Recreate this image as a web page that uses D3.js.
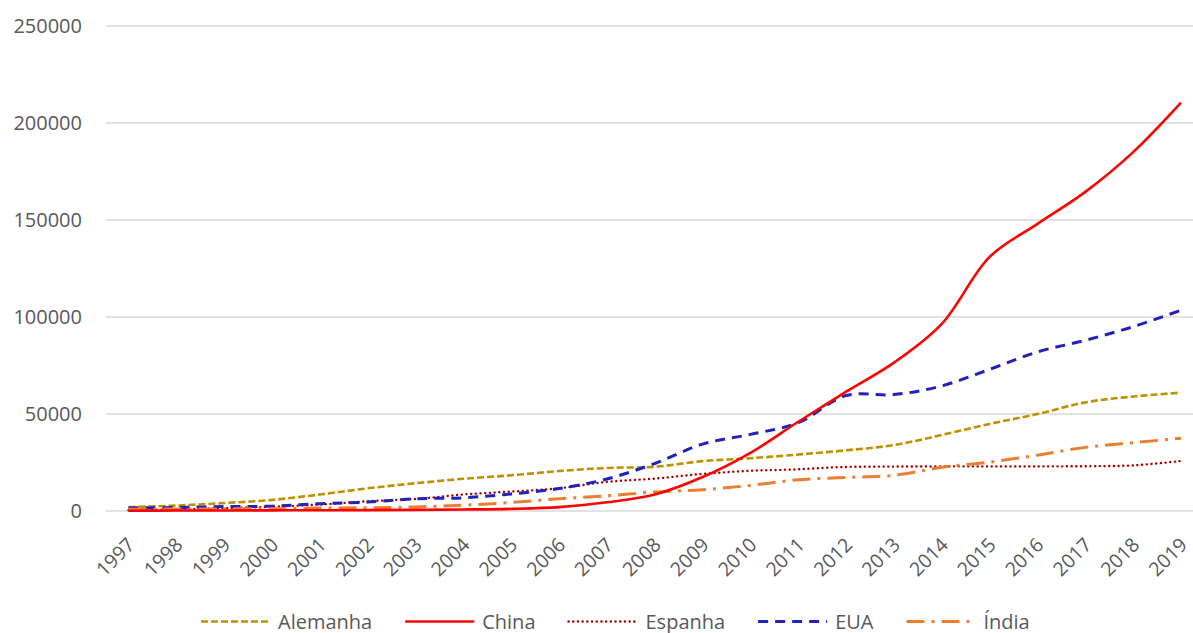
<!DOCTYPE html>
<html>
<head>
<meta charset="utf-8">
<script src="https://cdn.jsdelivr.net/npm/d3@7"></script>
<style>
  html, body { margin: 0; padding: 0; background: #fff; }
  svg { display: block; font-family: "Open Sans", "Liberation Sans", sans-serif; }
</style>
</head>
<body>
<svg id="chart" width="1193" height="633"></svg>
<script>
const years = ["1997","1998","1999","2000","2001","2002","2003","2004","2005","2006","2007","2008","2009","2010","2011","2012","2013","2014","2015","2016","2017","2018","2019"];
const yTicks = [0, 50000, 100000, 150000, 200000, 250000];

const alemanha = [2000, 2800, 4100, 5700, 8500, 11700, 14300, 16600, 18400, 20600, 22200, 22800, 25700, 27200, 29100, 31300, 34000, 39200, 44900, 50000, 56000, 59000, 61000];
const china    = [150, 220, 270, 340, 400, 470, 570, 760, 1100, 2000, 4500, 8500, 17500, 30000, 46000, 61500, 76500, 96500, 131000, 148000, 164500, 185000, 210500];
const espanha  = [400, 800, 1500, 2200, 3300, 5000, 6200, 8500, 10000, 11700, 15000, 16700, 19100, 20700, 21500, 22700, 22900, 23000, 23000, 23000, 23100, 23500, 25800];
const eua      = [1600, 1800, 2300, 2500, 3800, 4600, 6300, 6800, 8800, 11600, 16500, 24500, 34500, 39500, 45500, 59500, 60000, 64500, 73000, 82000, 88000, 95000, 103500];
const india    = [900, 1000, 1100, 1200, 1500, 1700, 2100, 3000, 4400, 6300, 7800, 9800, 11000, 13200, 16100, 17300, 18400, 22500, 25200, 28800, 32800, 35200, 37500];

const seriesNames = ["Alemanha", "China", "Espanha", "EUA", "Índia"];
const seriesValues = [alemanha, china, espanha, eua, india];
const styles = [
  { color: "#BF9000", width: 2.6, dash: "7,3", cap: "butt" },
  { color: "#FF0000", width: 2.6, dash: null, cap: "butt" },
  { color: "#A50000", width: 2.4, dash: "0.1,4.6", cap: "round" },
  { color: "#2222BB", width: 3, dash: "10,7", cap: "butt" },
  { color: "#ED7D31", width: 3, dash: "18,7,3,7", cap: "butt" }
];

const svg = d3.select("#chart");
const W = 1193;
const plotLeft = 105.7;

const x = d3.scalePoint().domain(years).range([128.5, 1181]);
const y = d3.scaleLinear().domain([0, 250000]).range([511, 26]);

// gridlines
svg.append("g").selectAll("line").data(yTicks).join("line")
  .attr("x1", plotLeft).attr("x2", W)
  .attr("y1", d => y(d)).attr("y2", d => y(d))
  .attr("stroke", "#D9D9D9").attr("stroke-width", 1.3);

// y axis labels
const yAxis = d3.axisLeft(y).tickValues(yTicks).tickSize(0).tickPadding(0).tickFormat(d3.format("d"));
const yg = svg.append("g").attr("transform", "translate(82,0)").call(yAxis);
yg.select(".domain").remove();
yg.selectAll("text").attr("fill", "#595959").attr("font-size", 20)
  .attr("font-family", "'Open Sans', 'Liberation Sans', sans-serif");

// x axis labels
const xAxis = d3.axisBottom(x).tickSize(0).tickPadding(0);
const xg = svg.append("g").attr("transform", "translate(0,511)").call(xAxis);
xg.select(".domain").remove();
xg.selectAll("text")
  .attr("fill", "#595959").attr("font-size", 19.5)
  .attr("font-family", "'Open Sans', 'Liberation Sans', sans-serif")
  .attr("text-anchor", "end")
  .attr("y", 0).attr("dy", 0)
  .attr("transform", "translate(7,35) rotate(-45)");

// lines
const line = d3.line()
  .x((d, i) => x(years[i]))
  .y(d => y(d))
  .curve(d3.curveCatmullRom.alpha(0.5));

const order = [0, 2, 3, 4, 1];
svg.append("g").selectAll("path").data(order).join("path")
  .attr("d", k => line(seriesValues[k]))
  .attr("fill", "none")
  .attr("stroke", k => styles[k].color)
  .attr("stroke-width", k => styles[k].width)
  .attr("stroke-dasharray", k => styles[k].dash)
  .attr("stroke-linecap", k => styles[k].cap);

// legend
const lg = svg.append("g");
let lx = 201;
const ly = 621.5;
seriesNames.forEach((name, k) => {
  const st = styles[k];
  lg.append("line")
    .attr("x1", lx).attr("x2", lx + 69).attr("y1", ly).attr("y2", ly)
    .attr("stroke", st.color).attr("stroke-width", st.width)
    .attr("stroke-dasharray", st.dash).attr("stroke-linecap", st.cap);
  const t = lg.append("text")
    .attr("x", lx + 77).attr("y", ly).attr("dy", "0.35em")
    .attr("fill", "#595959").attr("font-size", 20)
    .text(name);
  lx += 77 + t.node().getComputedTextLength() + 33;
});
</script>
</body>
</html>
